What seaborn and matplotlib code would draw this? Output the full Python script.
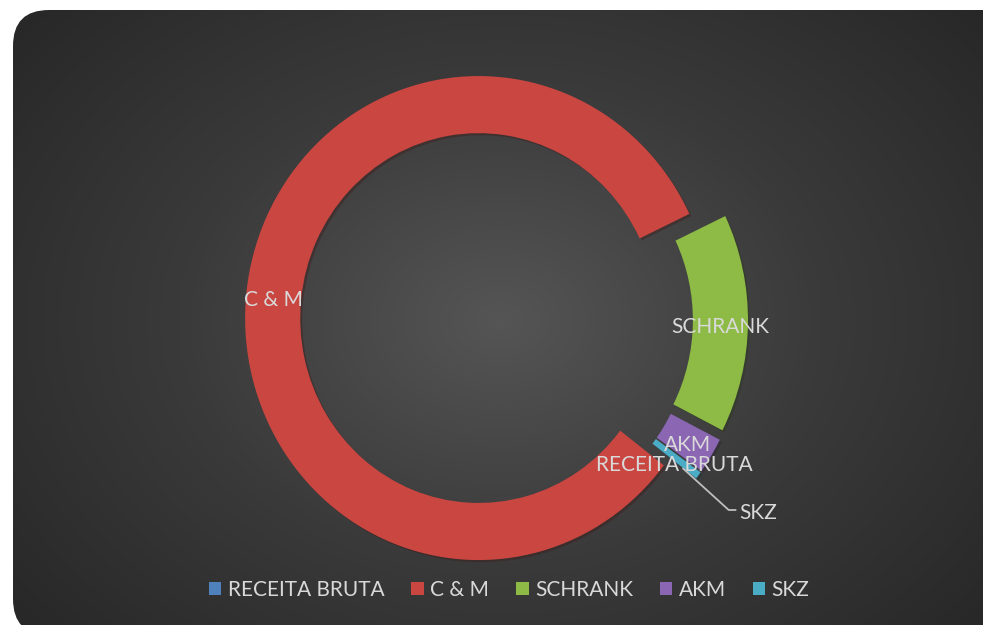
import numpy as np
import matplotlib
matplotlib.use('Agg')
import matplotlib.pyplot as plt
import matplotlib.patheffects as pe
import seaborn as sns
from matplotlib.patches import FancyBboxPatch, Patch
from matplotlib.colors import LinearSegmentedColormap

# Données
categories = ['RECEITA BRUTA', 'C & M', 'SCHRANK', 'AKM', 'SKZ']
valeurs = [0.0, 82.5, 14.6, 2.4, 0.5]
couleurs = ['#4F81BD', '#CA4641', '#8DBB45', '#8A66B3', '#4BACC6']

sns.set_theme(style='white')
plt.rcParams['font.family'] = ['Lato', 'DejaVu Sans']
txt_color = '#D9D9D9'
fs = 15

W, H = 983, 625
fig = plt.figure(figsize=(W / 100, H / 100), dpi=100)
fig.patch.set_facecolor('white')

# Fond: rectangle arrondi avec dégradé radial
bg = fig.add_axes([0, 0, 1, 1])
bg.set_xlim(0, W)
bg.set_ylim(H, 0)
bg.axis('off')
yy, xx = np.mgrid[0:H + 20, 0:W + 20]
r = np.sqrt(((xx - 500) / 560) ** 2 + ((yy - 320) / 420) ** 2)
cmap = LinearSegmentedColormap.from_list('bg', ['#555555', '#3a3a3a', '#272727'])
img = bg.imshow(np.clip(r, 0, 1.15), cmap=cmap, extent=(0, W + 20, H + 20, 0),
                interpolation='bilinear', zorder=0)
box = FancyBboxPatch((13, 10), 1010, 625, boxstyle='round,pad=0,rounding_size=36',
                     transform=bg.transData, facecolor='none', edgecolor='none')
bg.add_patch(box)
img.set_clip_path(box)

# Anneau (légèrement comprimé horizontalement comme l'original)
cx, cy, rx, ry, half = 496.5, 320, 233.5, 242, 300
ax = fig.add_axes([(cx - half) / W, (H - cy - half) / H, 2 * half / W, 2 * half / H])

expl = 0.077
wedges, _ = ax.pie(valeurs, colors=couleurs, startangle=90 - 127.5, counterclock=False,
                   explode=[expl] * len(valeurs), radius=1.0,
                   wedgeprops=dict(width=0.236, edgecolor='none'))
ax.set_aspect('auto')
ax.set_xlim(-half / rx, half / rx)
ax.set_ylim(-half / ry, half / ry)
ax.axis('off')
ax.patch.set_alpha(0)
for w in wedges:
    w.set_path_effects([pe.SimplePatchShadow(offset=(1.5, -1.5), alpha=0.35), pe.Normal()])

def polar(w, ang, rad):
    a = np.deg2rad(ang)
    return w.center[0] + rad * np.cos(a), w.center[1] + rad * np.sin(a)

for w, lab in zip(wedges, categories):
    mid = (w.theta1 + w.theta2) / 2
    if lab == 'SKZ':
        x0, y0 = polar(w, mid - 1.0, 0.93)
        x1, y1 = polar(w, mid - 1.8, 1.19)
        ax.plot([x0, x1, x1 + 0.03], [y0, y1, y1], color='#BFBFBF', lw=1.3)
        ax.annotate(lab, (x1 + 0.045, y1), xytext=(0, -2), textcoords='offset points',
                    color=txt_color, fontsize=fs, ha='left', va='center')
    else:
        ax.annotate(lab, polar(w, mid, 0.882), xytext=(0, -3), textcoords='offset points',
                    color=txt_color, fontsize=fs, ha='center', va='center')

# Légende
handles = [Patch(facecolor=c, edgecolor='none') for c in couleurs]
leg = fig.legend(handles, categories, loc='center', bbox_to_anchor=(0.518, 1 - 590 / H),
                 ncol=5, frameon=False, fontsize=fs, handlelength=0.6, handleheight=0.6,
                 handletextpad=0.3, columnspacing=1.3)
for t in leg.get_texts():
    t.set_color(txt_color)

fig.savefig('out.png', dpi=100, facecolor='white')
